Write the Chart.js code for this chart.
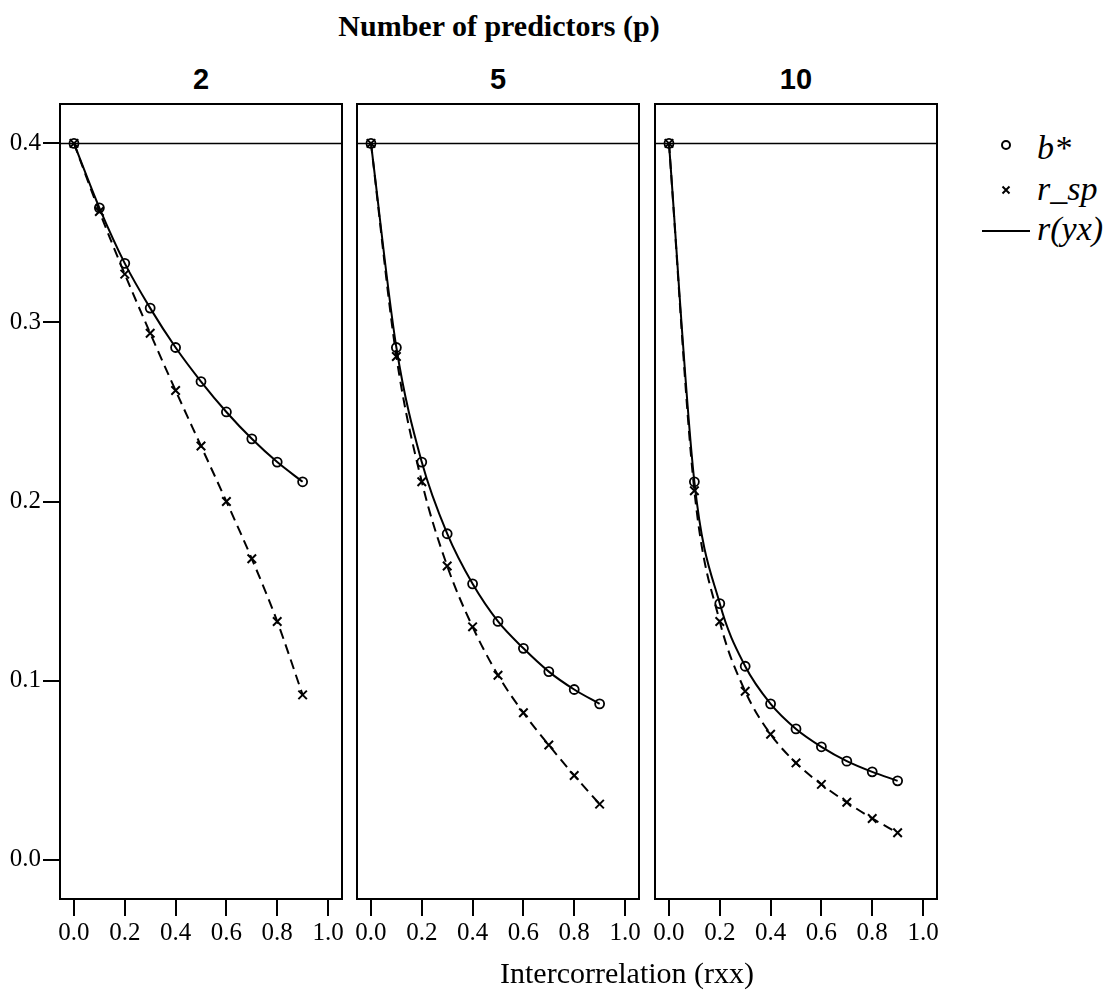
<!DOCTYPE html>
<html>
<head>
<meta charset="utf-8">
<script src="https://cdn.jsdelivr.net/npm/chart.js@4.4.0/dist/chart.umd.min.js"></script>
<style>
  html, body { margin: 0; padding: 0; background: #fff; }
  #page { position: relative; width: 1111px; height: 996px; overflow: hidden; color: #000;
    font-family: 'Liberation Serif', 'Times New Roman', serif; }
  canvas { position: absolute; top: 84px; }
  .txt { position: absolute; white-space: nowrap; }
  #title { left: 0; width: 998px; top: 11px; text-align: center; font-weight: bold; font-size: 30px; line-height: 30px; }
  .plabel { top: 65px; width: 282px; text-align: center; font-family: 'Liberation Sans', Arial, sans-serif;
    font-weight: bold; font-size: 29px; line-height: 29px; }
  #xtitle { left: 500px; top: 958px; font-size: 30px; line-height: 30px; }
  #legend { position: absolute; left: 970px; top: 110px; }
</style>
</head>
<body>
<div id="page">
  <div id="title" class="txt">Number of predictors (p)</div>
  <div id="plabel0" class="txt plabel"></div>
  <div id="plabel1" class="txt plabel"></div>
  <div id="plabel2" class="txt plabel"></div>
  <canvas id="panel0"></canvas>
  <canvas id="panel1"></canvas>
  <canvas id="panel2"></canvas>
  <div id="xtitle" class="txt">Intercorrelation (rxx)</div>
  <svg id="legend" width="141" height="160">
    <circle cx="36" cy="35" r="4" fill="none" stroke="#000" stroke-width="2"/>
    <path d="M32.5 76.5 L39.5 83.5 M39.5 76.5 L32.5 83.5" stroke="#000" stroke-width="2"/>
    <line x1="12" y1="121" x2="60" y2="121" stroke="#000" stroke-width="2"/>
    <g font-family="Liberation Serif, Times New Roman, serif" font-style="italic" font-size="34">
      <text x="67" y="49">b*</text>
      <text x="67" y="90">r_sp</text>
      <text x="67" y="130">r(yx)</text>
    </g>
  </svg>
</div>
<script>
// x values: intercorrelation among predictors
const RXX = [0.0, 0.1, 0.2, 0.3, 0.4, 0.5, 0.6, 0.7, 0.8, 0.9]
const P_LABELS = ['2', '5', '10']

// standardized weights b*
const B_STAR_P2 = [0.400, 0.364, 0.333, 0.308, 0.286, 0.267, 0.250, 0.235, 0.222, 0.211]
const B_STAR_P5 = [0.400, 0.286, 0.222, 0.182, 0.154, 0.133, 0.118, 0.105, 0.095, 0.087]
const B_STAR_P10 = [0.400, 0.211, 0.143, 0.108, 0.087, 0.073, 0.063, 0.055, 0.049, 0.044]

// semipartial correlations r_sp
const R_SP_P2 = [0.400, 0.362, 0.327, 0.294, 0.262, 0.231, 0.200, 0.168, 0.133, 0.092]
const R_SP_P5 = [0.400, 0.281, 0.211, 0.164, 0.130, 0.103, 0.082, 0.064, 0.047, 0.031]
const R_SP_P10 = [0.400, 0.206, 0.133, 0.094, 0.070, 0.054, 0.042, 0.032, 0.023, 0.015]

// zero-order validity r(yx)
const R_YX = 0.4

const X_TICKS = [0.0, 0.2, 0.4, 0.6, 0.8, 1.0]
const Y_TICKS = [0.0, 0.1, 0.2, 0.3, 0.4]

const B_STAR = [B_STAR_P2, B_STAR_P5, B_STAR_P10]
const R_SP = [R_SP_P2, R_SP_P5, R_SP_P10]

// axis ranges and panel placement
const X_MIN = -0.055
const X_MAX = 1.055
const Y_MIN = -0.022
const Y_MAX = 0.422
const PANEL_LEFT = [60, 357, 655]
const PANEL_W = 282
const SIDE_PAD = 10
const TOP_PAD = 20
const Y_AXIS_W = 60

const tickFont = { family: "'Liberation Serif', 'Times New Roman', serif", size: 25 }

const toPoints = (ys) => ys.map((y, i) => ({ x: RXX[i], y: y }))

// frame round each panel
const panelBox = {
  id: 'panelBox',
  afterDatasetsDraw(chart) {
    const { ctx, chartArea: a } = chart
    ctx.save()
    ctx.strokeStyle = '#000'
    ctx.lineWidth = 2
    ctx.strokeRect(a.left, a.top, a.right - a.left, a.bottom - a.top)
    ctx.restore()
  },
}

const makePanel = (idx) => {
  const isFirst = idx === 0
  const canvas = document.getElementById('panel' + idx)
  const left = isFirst ? 0 : PANEL_LEFT[idx] - SIDE_PAD
  const width = PANEL_LEFT[idx] + PANEL_W + SIDE_PAD - left
  canvas.width = width
  canvas.height = 876
  canvas.style.left = left + 'px'
  canvas.style.width = width + 'px'
  canvas.style.height = '876px'

  const label = document.getElementById('plabel' + idx)
  label.textContent = P_LABELS[idx]
  label.style.left = PANEL_LEFT[idx] + 'px'

  new Chart(canvas, {
    type: 'line',
    data: {
      datasets: [
        {
          label: 'b*',
          data: toPoints(B_STAR[idx]),
          borderColor: '#000',
          borderWidth: 2,
          cubicInterpolationMode: 'monotone',
          pointStyle: 'circle',
          pointRadius: 4.5,
          pointBorderWidth: 1.8,
          pointBorderColor: '#000',
          pointBackgroundColor: 'rgba(0,0,0,0)',
        },
        {
          label: 'r_sp',
          data: toPoints(R_SP[idx]),
          borderColor: '#000',
          borderWidth: 2,
          borderDash: [10, 6],
          cubicInterpolationMode: 'monotone',
          pointStyle: 'crossRot',
          pointRadius: 6,
          pointBorderWidth: 2,
          pointBorderColor: '#000',
        },
        {
          label: 'r(yx)',
          data: [{ x: X_MIN, y: R_YX }, { x: X_MAX, y: R_YX }],
          borderColor: '#000',
          borderWidth: 1.5,
          pointRadius: 0,
        },
      ],
    },
    options: {
      responsive: false,
      animation: false,
      events: [],
      layout: { padding: { left: isFirst ? 0 : SIDE_PAD, right: SIDE_PAD, top: TOP_PAD, bottom: 0 } },
      plugins: { legend: { display: false }, tooltip: { enabled: false } },
      scales: {
        x: {
          type: 'linear',
          min: X_MIN,
          max: X_MAX,
          afterBuildTicks: (s) => { s.ticks = X_TICKS.map((v) => ({ value: v })) },
          afterFit: (s) => { s.height = 61 },
          border: { display: false },
          grid: { drawOnChartArea: false, tickLength: 17, lineWidth: 2, color: '#000' },
          ticks: { autoSkip: false, maxRotation: 0, padding: 2, color: '#000', font: tickFont,
            callback: (v) => Number(v).toFixed(1) },
        },
        y: {
          display: isFirst,
          min: Y_MIN,
          max: Y_MAX,
          afterBuildTicks: (s) => { s.ticks = Y_TICKS.map((v) => ({ value: v })) },
          // only the first panel carries a visible y axis
          afterFit: (s) => { s.width = isFirst ? Y_AXIS_W : 0 },
          border: { display: false },
          grid: { drawOnChartArea: false, tickLength: 17, lineWidth: 2, color: '#000' },
          ticks: { autoSkip: false, padding: 2, color: '#000', font: tickFont,
            callback: (v) => Number(v).toFixed(1) },
        },
      },
    },
    plugins: [panelBox],
  })
}

document.addEventListener('DOMContentLoaded', () => {
  P_LABELS.forEach((p, i) => makePanel(i))
})
</script>
</body>
</html>
